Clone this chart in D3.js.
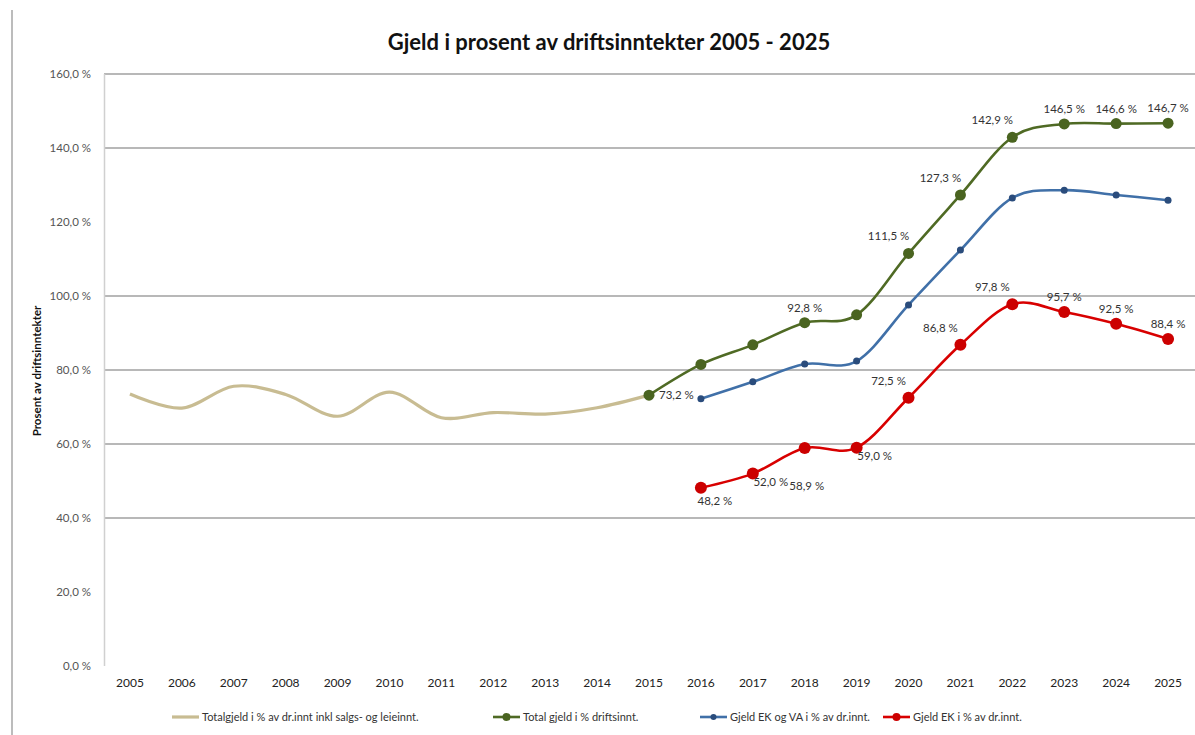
<!DOCTYPE html>
<html>
<head>
<meta charset="utf-8">
<script src="https://cdn.jsdelivr.net/npm/d3@7"></script>
<style>
  body { margin: 0; background: #fff; }
  #chart { width: 1195px; height: 735px; }
  text { font-family: Lato, "Open Sans", sans-serif; }
</style>
</head>
<body>
<div id="chart"></div>
<script>
// Chart data
const years = ["2005", "2006", "2007", "2008", "2009", "2010", "2011", "2012", "2013", "2014", "2015",
  "2016", "2017", "2018", "2019", "2020", "2021", "2022", "2023", "2024", "2025"];

const totalInklSalg = [73.5, 69.7, 75.6, 73.4, 67.5, 74.0, 67.1, 68.5, 68.1, 69.8, 73.2,
  null, null, null, null, null, null, null, null, null, null];
const totalGjeld = [null, null, null, null, null, null, null, null, null, null, 73.2,
  81.5, 86.8, 92.8, 94.9, 111.5, 127.3, 142.9, 146.5, 146.6, 146.7];
const gjeldEkVa = [null, null, null, null, null, null, null, null, null, null, null,
  72.2, 76.8, 81.6, 82.4, 97.6, 112.4, 126.5, 128.6, 127.3, 125.9];
const gjeldEk = [null, null, null, null, null, null, null, null, null, null, null,
  48.2, 52.0, 58.9, 59.0, 72.5, 86.8, 97.8, 95.7, 92.5, 88.4];

const yTicks = [0, 20, 40, 60, 80, 100, 120, 140, 160];
const gridTicks = [40, 60, 80, 100, 140, 160];

const seriesNames = [
  "Totalgjeld i % av dr.innt inkl salgs- og leieinnt.",
  "Total gjeld i % driftsinnt.",
  "Gjeld EK og VA i % av dr.innt.",
  "Gjeld EK i % av dr.innt."
];

// Which points get a data label, and where (relative to the point)
const greenLabels = {2015: "right", 2018: "above", 2020: "aboveLeft", 2021: "aboveLeft",
  2022: "aboveLeft", 2023: "above", 2024: "above", 2025: "above"};
const redLabels = {2016: "below", 2017: "belowRight", 2018: "belowFar", 2019: "belowRight",
  2020: "aboveLeft", 2021: "aboveLeft", 2022: "aboveLeft", 2023: "above", 2024: "above", 2025: "above"};

const width = 1195, height = 735;
const svg = d3.select("#chart").append("svg")
  .attr("width", width)
  .attr("height", height);

const x = d3.scaleBand().domain(years).range([104, 1194]).padding(0);
const cx = d => x(d) + x.bandwidth() / 2;
const y = d3.scaleLinear().domain([0, 160]).range([666, 74]);

const fmt = v => d3.format(".1f")(v).replace(".", ",") + " %";

// outer border (left edge only visible)
svg.append("line")
  .attr("x1", 12).attr("x2", 12).attr("y1", 10).attr("y2", height)
  .attr("stroke", "#a6a6a6").attr("stroke-width", 1.5);

// title
svg.append("text")
  .attr("x", 609).attr("y", 50)
  .attr("text-anchor", "middle")
  .style("font-size", "22px")
  .style("font-weight", "bold")
  .style("fill", "#111")
  .text("Gjeld i prosent av driftsinntekter 2005 - 2025");

// gridlines
svg.append("g").selectAll("line")
  .data(gridTicks)
  .join("line")
  .attr("x1", 104).attr("x2", width)
  .attr("y1", d => y(d)).attr("y2", d => y(d))
  .attr("stroke", "#a0a0a0").attr("stroke-width", 1.3);

// left axis line
svg.append("line")
  .attr("x1", 104.5).attr("x2", 104.5).attr("y1", y(160)).attr("y2", y(0))
  .attr("stroke", "#d0d0d0").attr("stroke-width", 1.5);

// y axis tick labels
const yAxis = svg.append("g")
  .attr("transform", "translate(91,0)")
  .call(d3.axisLeft(y).tickValues(yTicks).tickSize(0).tickPadding(0).tickFormat(fmt));
yAxis.select(".domain").remove();
yAxis.selectAll("text")
  .style("font-family", "Lato, sans-serif")
  .style("font-size", "11.5px")
  .style("fill", "#555");

// x axis labels
const xAxis = svg.append("g")
  .attr("transform", "translate(0,678)")
  .call(d3.axisBottom(x).tickSize(0).tickPadding(0));
xAxis.select(".domain").remove();
xAxis.selectAll("text")
  .style("font-family", "Lato, sans-serif")
  .style("font-size", "12px")
  .style("fill", "#222");

// y axis title
svg.append("text")
  .attr("transform", "translate(41,371) rotate(-90)")
  .attr("text-anchor", "middle")
  .style("font-size", "11.5px")
  .style("font-weight", "bold")
  .style("fill", "#111")
  .text("Prosent av driftsinntekter");

// series
const series = [
  { values: totalInklSalg, color: "#c8bc92", width: 3.2, r: 0, mcolor: null },
  { values: totalGjeld, color: "#4f6a24", width: 2.6, r: 5.5, mcolor: "#4a6420" },
  { values: gjeldEkVa, color: "#4070a8", width: 2.6, r: 3.5, mcolor: "#2a4c7c" },
  { values: gjeldEk, color: "#d80000", width: 2.6, r: 6, mcolor: "#cc0000" }
];

const line = d3.line()
  .defined(d => d.v != null)
  .x(d => cx(d.year))
  .y(d => y(d.v))
  .curve(d3.curveCatmullRom.alpha(0));

series.forEach(s => {
  const pts = years.map((yr, i) => ({ year: yr, v: s.values[i] })).filter(d => d.v != null);
  svg.append("path")
    .datum(pts)
    .attr("d", line)
    .attr("fill", "none")
    .attr("stroke", s.color)
    .attr("stroke-width", s.width)
    .attr("stroke-linejoin", "round");
  if (s.r > 0) {
    svg.append("g").selectAll("circle")
      .data(pts)
      .join("circle")
      .attr("cx", d => cx(d.year))
      .attr("cy", d => y(d.v))
      .attr("r", s.r)
      .attr("fill", s.mcolor);
  }
});

// data labels
const offsets = {
  right: [10, 4, "start"],
  above: [0, -11, "middle"],
  aboveLeft: [-20, -13, "middle"],
  below: [14, 17, "middle"],
  belowRight: [18, 12, "middle"],
  belowFar: [2, 42, "middle"]
};

function addLabels(values, placement) {
  const pts = years.map((yr, i) => ({ year: yr, v: values[i] }))
    .filter(d => d.v != null && placement[d.year]);
  svg.append("g").selectAll("text")
    .data(pts)
    .join("text")
    .attr("x", d => cx(d.year) + offsets[placement[d.year]][0])
    .attr("y", d => y(d.v) + offsets[placement[d.year]][1])
    .attr("text-anchor", d => offsets[placement[d.year]][2])
    .style("font-size", "11.5px")
    .style("fill", "#333")
    .text(d => fmt(d.v));
}
addLabels(totalGjeld, greenLabels);
addLabels(gjeldEk, redLabels);

// legend
const legendX = [172, 493, 700, 883];
const legend = svg.append("g").selectAll("g")
  .data(series)
  .join("g")
  .attr("transform", (d, i) => `translate(${legendX[i]},717)`);
legend.append("line")
  .attr("x1", 0).attr("x2", 27)
  .attr("stroke", d => d.color)
  .attr("stroke-width", d => d.width);
legend.filter(d => d.r > 0).append("circle")
  .attr("cx", 13.5).attr("cy", 0)
  .attr("r", d => Math.min(d.r, 4.5) - 0.5)
  .attr("fill", d => d.mcolor);
legend.append("text")
  .attr("x", 30).attr("y", 4)
  .style("font-size", "11px")
  .style("fill", "#333")
  .text((d, i) => seriesNames[i]);
</script>
</body>
</html>
